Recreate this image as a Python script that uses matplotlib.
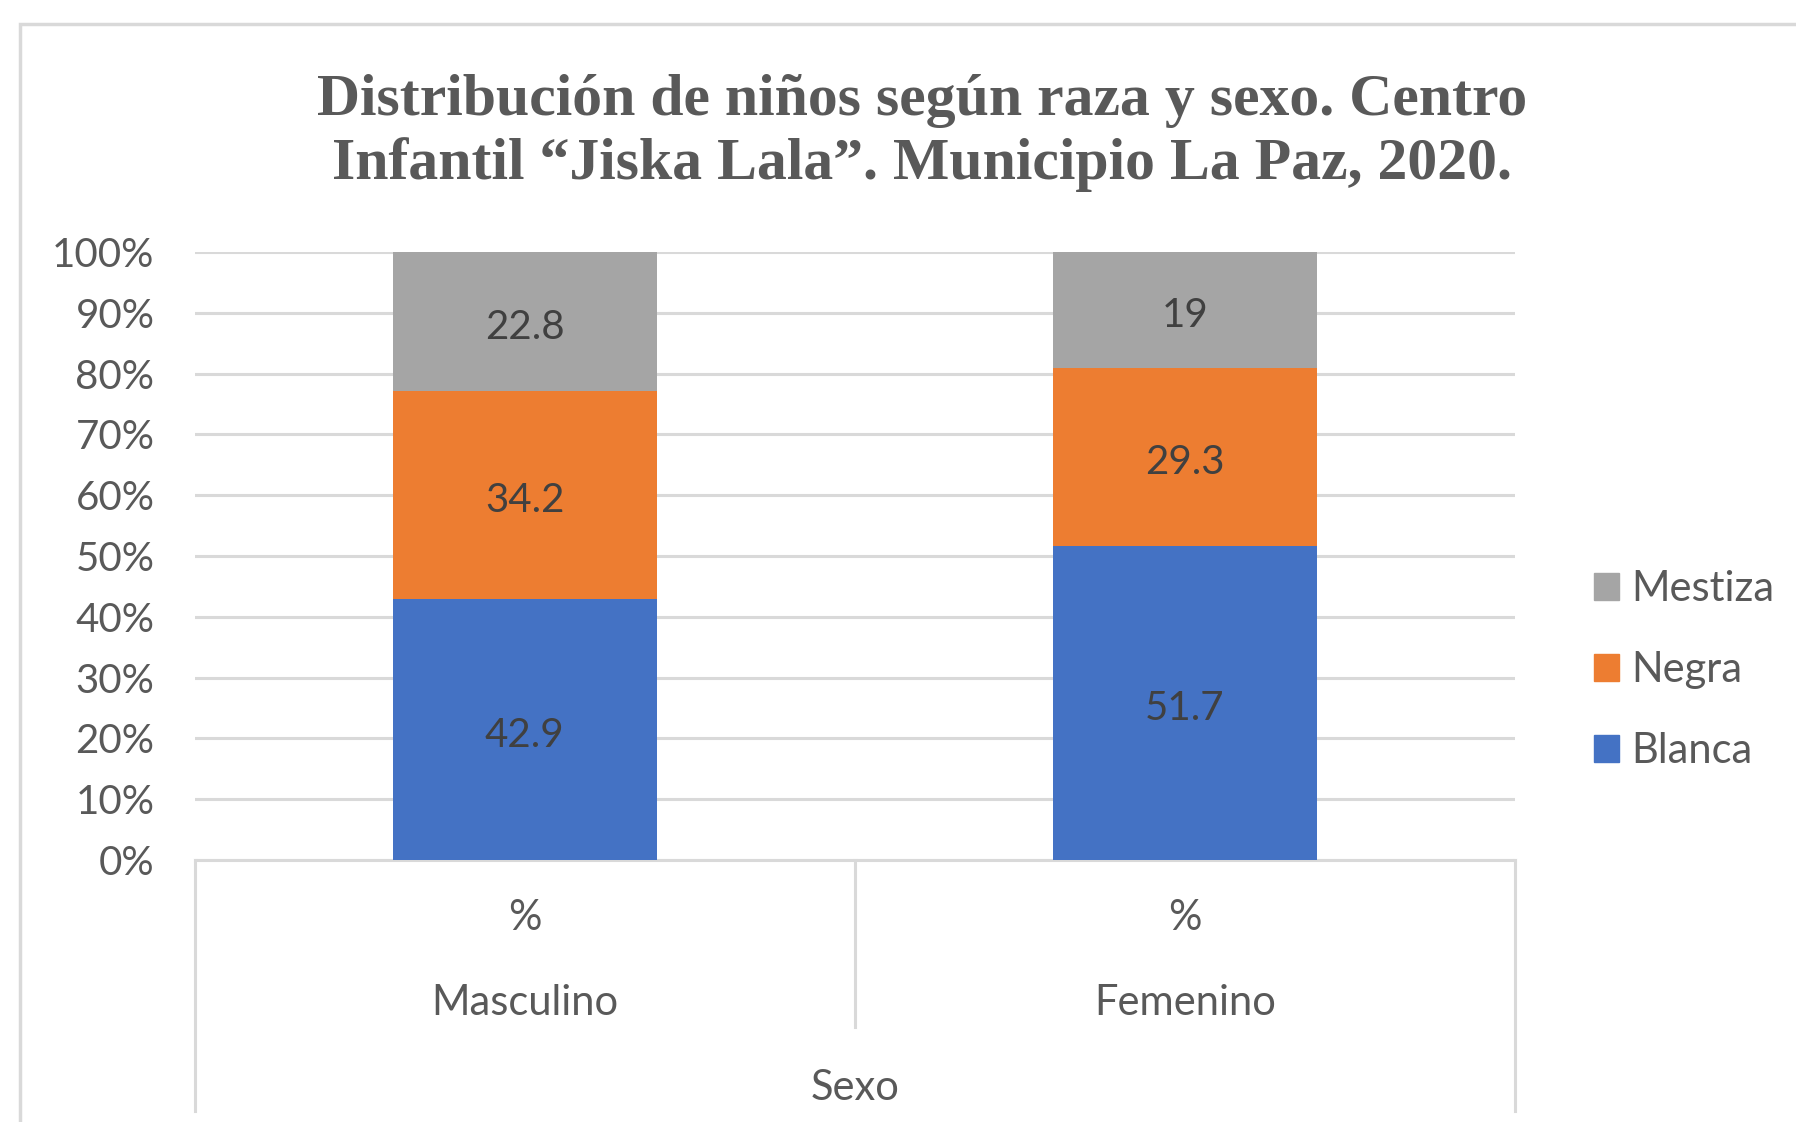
import numpy as np
import matplotlib
matplotlib.use("Agg")
import matplotlib.pyplot as plt
from matplotlib.patches import Patch, Rectangle
import matplotlib.transforms as mtransforms

# data
sexos = ["Masculino", "Femenino"]
sub_label = ["%", "%"]
razas = ["Blanca", "Negra", "Mestiza"]
blanca = [42.9, 51.7]
negra = [34.2, 29.3]
mestiza = [22.8, 19]
colores = ["#4472C4", "#ED7D31", "#A5A5A5"]
yticks = np.arange(0, 101, 10)

GRIS = "#595959"
plt.rcParams["font.family"] = ["Lato", "DejaVu Sans"]

fig = plt.figure(figsize=(17.96, 11.22), dpi=100)
ax = fig.add_axes([0.1084, 0.2335, 0.7351, 0.5419])

series = [blanca, negra, mestiza]
total = np.sum(series, axis=0)
x = np.arange(len(sexos))
bottom = np.zeros(len(sexos))
for vals, nombre, c in zip(series, razas, colores):
    pct = np.array(vals) / total * 100
    ax.bar(x, pct, 0.4, bottom=bottom, color=c, label=nombre, zorder=3)
    for xi, b, h, v in zip(x, bottom, pct, vals):
        ax.text(xi, b + h / 2 - 0.4, f"{v:g}", ha="center", va="center_baseline",
                fontsize=29, color="#404040", zorder=4)
    bottom += pct

ax.set_xlim(-0.5, len(sexos) - 0.5)
ax.set_ylim(0, 100)
ax.set_yticks(yticks)
ax.set_yticklabels([f"{t}%" for t in yticks], fontsize=29, color=GRIS)
ax.set_xticks([])
ax.tick_params(axis="y", length=0, pad=29)
for s in ax.spines.values():
    s.set_visible(False)
ax.grid(axis="y", color="#D9D9D9", linewidth=2.2, zorder=0)
ax.set_axisbelow(True)

# multi-level category axis
tr = mtransforms.blended_transform_factory(ax.transData, ax.transAxes)
lc = dict(color="#D9D9D9", linewidth=2.2, transform=tr, clip_on=False)
ax.plot([-0.5, len(sexos) - 0.5], [0, 0], **lc)
ax.plot([-0.5, -0.5], [0, -0.413], **lc)
ax.plot([len(sexos) - 0.5] * 2, [0, -0.413], **lc)
for i in range(1, len(sexos)):
    ax.plot([i - 0.5] * 2, [0, -0.275], **lc)
for xi, s, sub in zip(x, sexos, sub_label):
    ax.text(xi, -0.096, sub, transform=tr, ha="center", va="center",
            fontsize=30, color=GRIS)
    ax.text(xi, -0.235, s, transform=tr, ha="center", va="center",
            fontsize=30, color=GRIS)
ax.text((len(sexos) - 1) / 2, -0.375, "Sexo", transform=tr, ha="center",
        va="center", fontsize=30, color=GRIS)

fig.text(922 / 1796, 1 - 133 / 1122,
         "Distribución de niños según raza y sexo. Centro\n"
         "Infantil “Jiska Lala”. Municipio La Paz, 2020.",
         ha="center", va="center", family="Liberation Serif",
         fontweight="bold", fontsize=43, color=GRIS, linespacing=1.24)

handles = [Patch(color=c, label=r) for c, r in zip(colores, razas)][::-1]
fig.legend(handles=handles, loc="center left",
           bbox_to_anchor=(1594 / 1796, 1 - 670 / 1122), frameon=False,
           fontsize=30, labelcolor=GRIS, handlelength=0.61, handleheight=0.61,
           handletextpad=0.28, labelspacing=1.03, borderpad=0, borderaxespad=0)

fig.patches.append(Rectangle((20 / 1796, -0.1), 1.2, 1 - 24 / 1122 + 0.1,
                             transform=fig.transFigure, fill=False,
                             edgecolor="#D9D9D9", linewidth=2.5))

fig.savefig("out.png", dpi=100)
